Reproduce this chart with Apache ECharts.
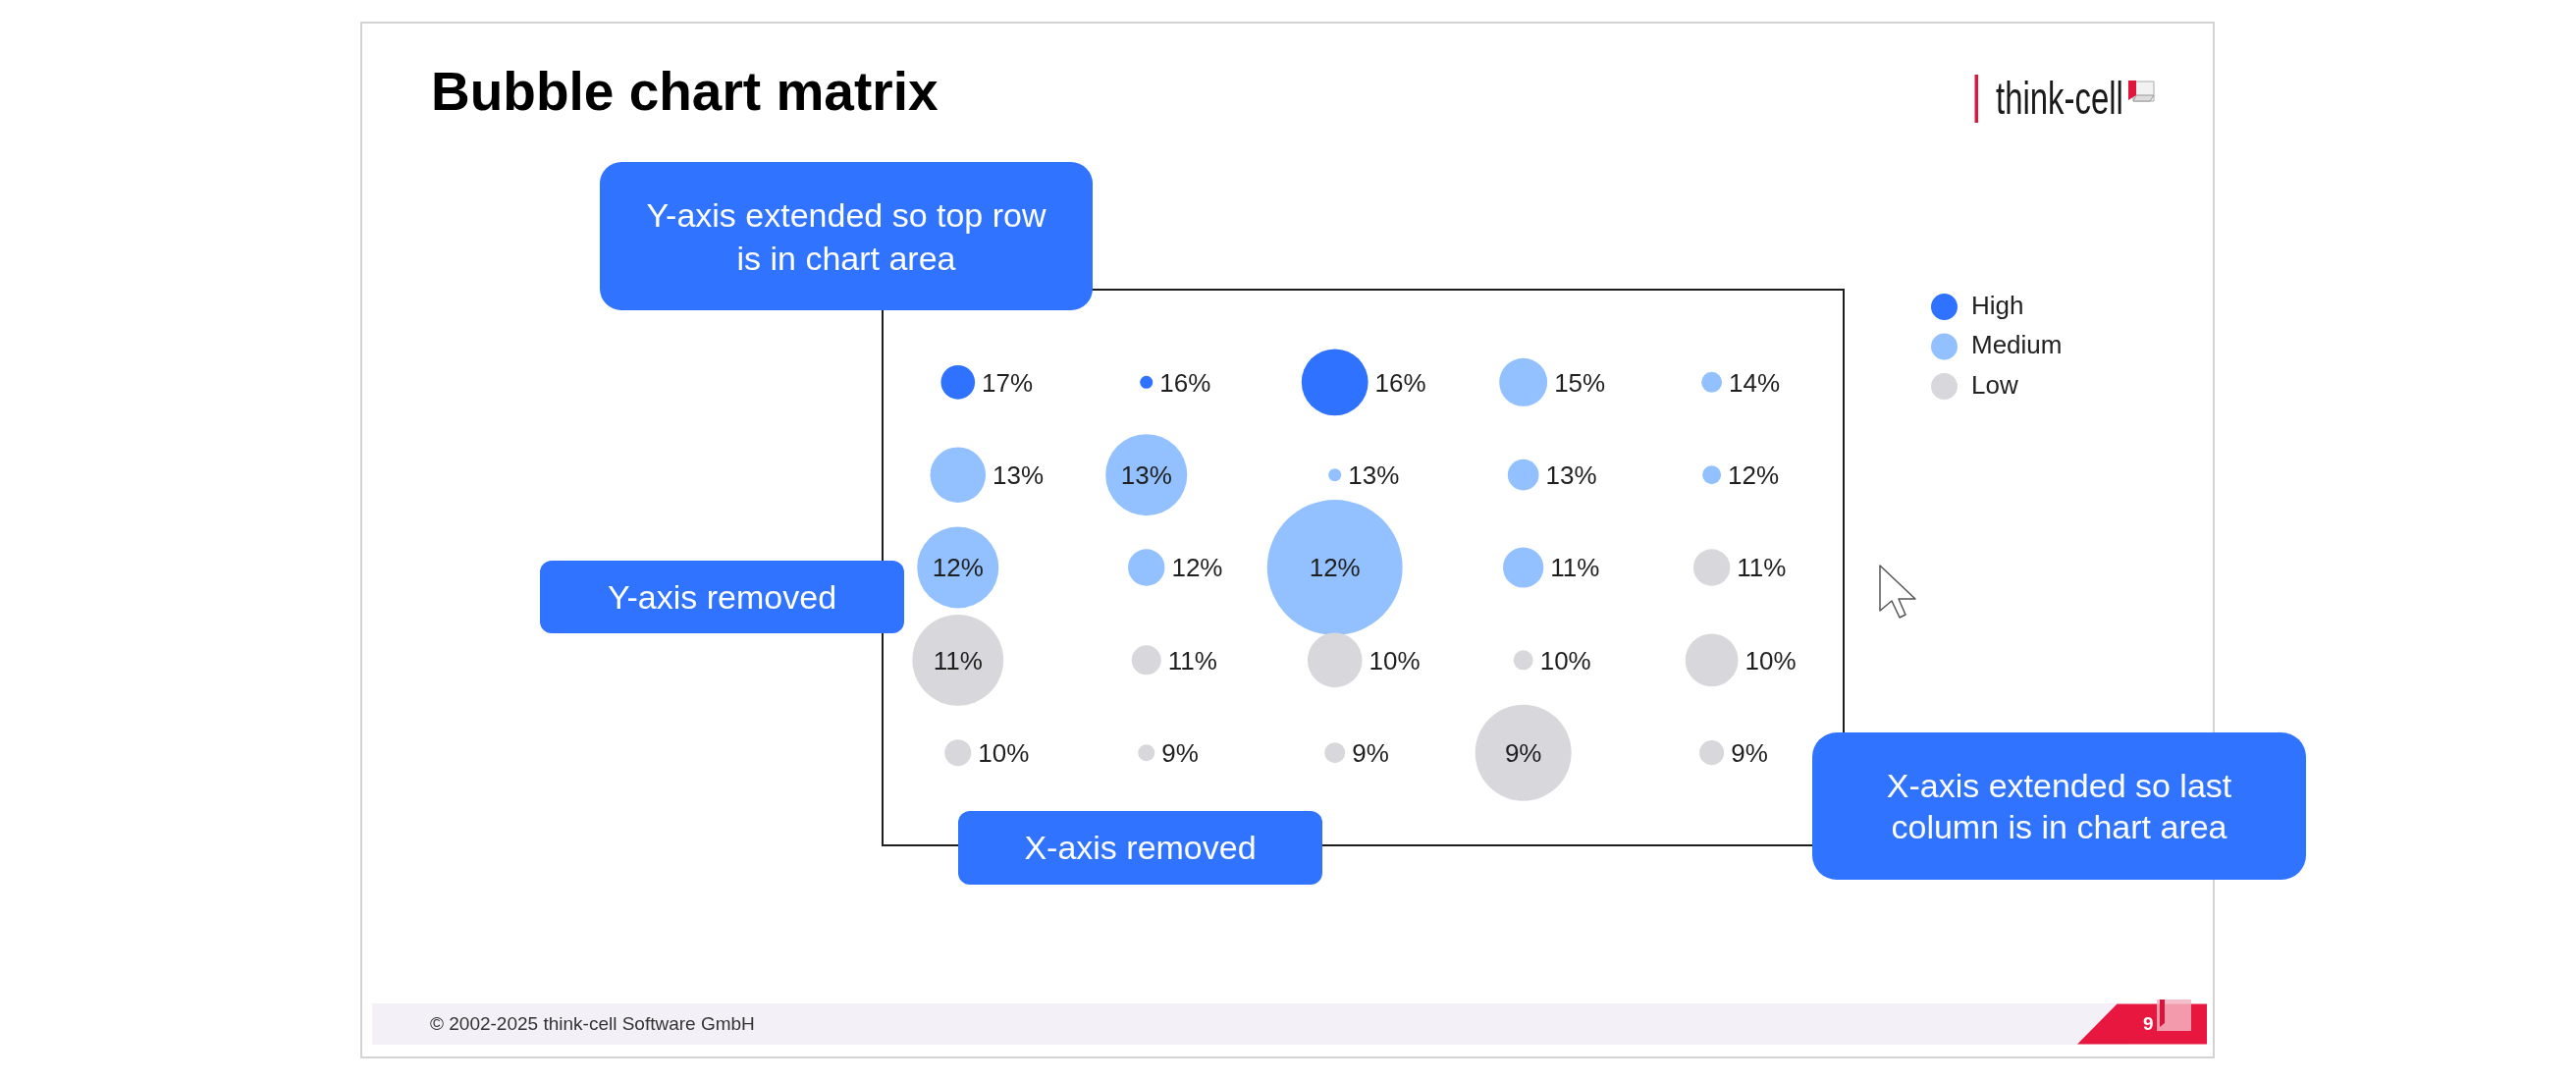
<!DOCTYPE html>
<html>
<head>
<meta charset="utf-8">
<script src="https://cdn.jsdelivr.net/npm/echarts@6/dist/echarts.min.js"></script>
<style>
html,body{margin:0;padding:0;background:#fff;}
#chart{width:2624px;height:1101px;}
</style>
</head>
<body>
<div id="chart"></div>
<script>
// ---- data ----
const columns = [1, 2, 3, 4, 5];
const rows = [5, 4, 3, 2, 1]; // top row first
const categoryNames = ['High', 'Medium', 'Low'];
const percentValues = [
  [17, 16, 16, 15, 14],
  [13, 13, 13, 13, 12],
  [12, 12, 12, 11, 11],
  [11, 11, 10, 10, 10],
  [10, 9, 9, 9, 9]
];
const cellCategories = [
  ['High', 'High', 'High', 'Medium', 'Medium'],
  ['Medium', 'Medium', 'Medium', 'Medium', 'Medium'],
  ['Medium', 'Medium', 'Medium', 'Medium', 'Low'],
  ['Low', 'Low', 'Low', 'Low', 'Low'],
  ['Low', 'Low', 'Low', 'Low', 'Low']
];
const bubbleSizes = [
  [12, 1.7, 46, 24, 4.4],
  [32, 69, 1.7, 10, 3.6],
  [69, 14, 190, 17, 14],
  [86, 9, 31, 4, 29],
  [7.3, 2.9, 4.4, 96, 6.3]
];

// ---- styles ----
const colors = { High: '#2E72FF', Medium: '#93C1FF', Low: '#D8D7DC' };
const FONT = '"Liberation Sans", Arial, sans-serif';
const calloutBlue = '#2F73FF';

const seriesData = { High: [], Medium: [], Low: [] };
rows.forEach((ry, ri) => {
  columns.forEach((cx, ci) => {
    const cat = cellCategories[ri][ci];
    const size = bubbleSizes[ri][ci];
    const item = { value: [cx, ry, size, percentValues[ri][ci]] };
    if (size >= 60) {
      item.label = { position: 'inside' };
    }
    seriesData[cat].push(item);
  });
});

const series = categoryNames.map(name => ({
  name: name,
  type: 'scatter',
  data: seriesData[name],
  symbol: 'circle',
  symbolSize: v => 10 * Math.sqrt(v[2]),
  itemStyle: { color: colors[name], opacity: 1 },
  label: {
    show: true,
    position: 'right',
    distance: 7,
    offset: [0, 2],
    formatter: p => p.value[3] + '%',
    color: '#1f1f1f',
    fontSize: 26,
    fontFamily: FONT
  },
  emphasis: { disabled: true },
  z: 3
}));

function callout(cx, cy, w, h, r, text, lineHeight, ty) {
  return {
    type: 'group',
    z: 100,
    children: [
      { type: 'rect', z: 100, shape: { x: cx - w / 2, y: cy - h / 2, width: w, height: h, r: r },
        style: { fill: calloutBlue } },
      { type: 'text', z: 101, style: { x: cx, y: cy + ty, text: text, align: 'center', verticalAlign: 'middle',
        fill: '#ffffff', font: '34px ' + FONT, lineHeight: lineHeight } }
    ]
  };
}

const chart = echarts.init(document.getElementById('chart'), null, { renderer: 'canvas' });
chart.setOption({
  animation: false,
  backgroundColor: '#ffffff',
  grid: {
    show: true, left: 899, top: 295, width: 979, height: 566,
    borderColor: '#1e1e1e', borderWidth: 2, backgroundColor: 'transparent'
  },
  xAxis: { type: 'value', min: 0.6, max: 5.7, show: false },
  yAxis: { type: 'value', min: 0, max: 6, show: false },
  legend: {
    data: categoryNames,
    orient: 'vertical',
    left: 1962, top: 294,
    itemWidth: 27, itemHeight: 27, itemGap: 13.5,
    icon: 'circle',
    textStyle: { fontSize: 26, color: '#222', fontFamily: FONT, padding: [0, 0, 0, 9] },
    selectedMode: false
  },
  series: series,
  graphic: [
    // slide frame
    { type: 'rect', z: 0, silent: true, shape: { x: 368, y: 23, width: 1887, height: 1054 },
      style: { fill: 'none', stroke: '#d3d3d3', lineWidth: 2 } },
    // title
    { type: 'text', z: 10, style: { x: 439, y: 97, text: 'Bubble chart matrix', verticalAlign: 'middle',
      font: 'bold 55px ' + FONT, fill: '#000' } },
    // logo
    { type: 'rect', z: 10, shape: { x: 2011.5, y: 76, width: 3.5, height: 49 }, style: { fill: '#E0163D' } },
    { type: 'text', z: 10, x: 2033, y: 103, scaleX: 0.7, style: { x: 0, y: 0, text: 'think-cell', verticalAlign: 'middle',
      font: '47px ' + FONT, fill: '#1a1a1a' } },
    { type: 'rect', z: 10, shape: { x: 2173, y: 83, width: 21, height: 20 }, style: { fill: '#f2f2f2', stroke: '#aaa', lineWidth: 1 } },
    { type: 'polygon', z: 11, shape: { points: [[2176, 97], [2194, 97], [2190, 103], [2173, 103]] }, style: { fill: '#ddd', stroke: '#999', lineWidth: 1 } },
    { type: 'polygon', z: 11, shape: { points: [[2168, 82], [2176, 82], [2176, 97], [2168, 102]] }, style: { fill: '#E0163D' } },
    // footer
    { type: 'rect', z: 5, shape: { x: 379, y: 1022, width: 1790, height: 42 }, style: { fill: '#F3F0F7' } },
    { type: 'polygon', z: 6, shape: { points: [[2156.5, 1022.5], [2248, 1022.5], [2248, 1063.5], [2116, 1063.5]] },
      style: { fill: '#E8173F' } },
    { type: 'text', z: 7, style: { x: 2183, y: 1044, text: '9', verticalAlign: 'middle', font: 'bold 19px ' + FONT, fill: '#fff' } },
    { type: 'rect', z: 8, shape: { x: 2197, y: 1018, width: 35, height: 32 }, style: { fill: '#F5B3C1', opacity: 0.85 } },
    { type: 'polygon', z: 9, shape: { points: [[2200, 1018], [2205, 1018], [2205, 1042], [2200, 1046]] }, style: { fill: '#D8143B' } },
    { type: 'text', z: 7, style: { x: 438, y: 1044, text: '\u00A9 2002-2025 think-cell Software GmbH', verticalAlign: 'middle',
      font: '19px ' + FONT, fill: '#333' } },
    // callouts
    callout(862, 240.5, 502, 151, 22, 'Y-axis extended so top row\nis in chart area', 44, 3),
    callout(735.5, 608, 371, 74, 12, 'Y-axis removed', 40, 3),
    callout(1161.5, 863.5, 371, 75, 12, 'X-axis removed', 40, 2),
    callout(2097.5, 821, 503, 150, 25, 'X-axis extended so last\ncolumn is in chart area', 42, 3),
    // mouse cursor
    { type: 'polygon', z: 120, shape: { points: [
        [1915, 576], [1915, 622], [1927, 612], [1935, 629], [1941, 626], [1934, 610], [1951, 610]
      ] }, style: { fill: '#ffffff', stroke: '#555', lineWidth: 1.5, lineJoin: 'round' } }
  ]
});
</script>
</body>
</html>
